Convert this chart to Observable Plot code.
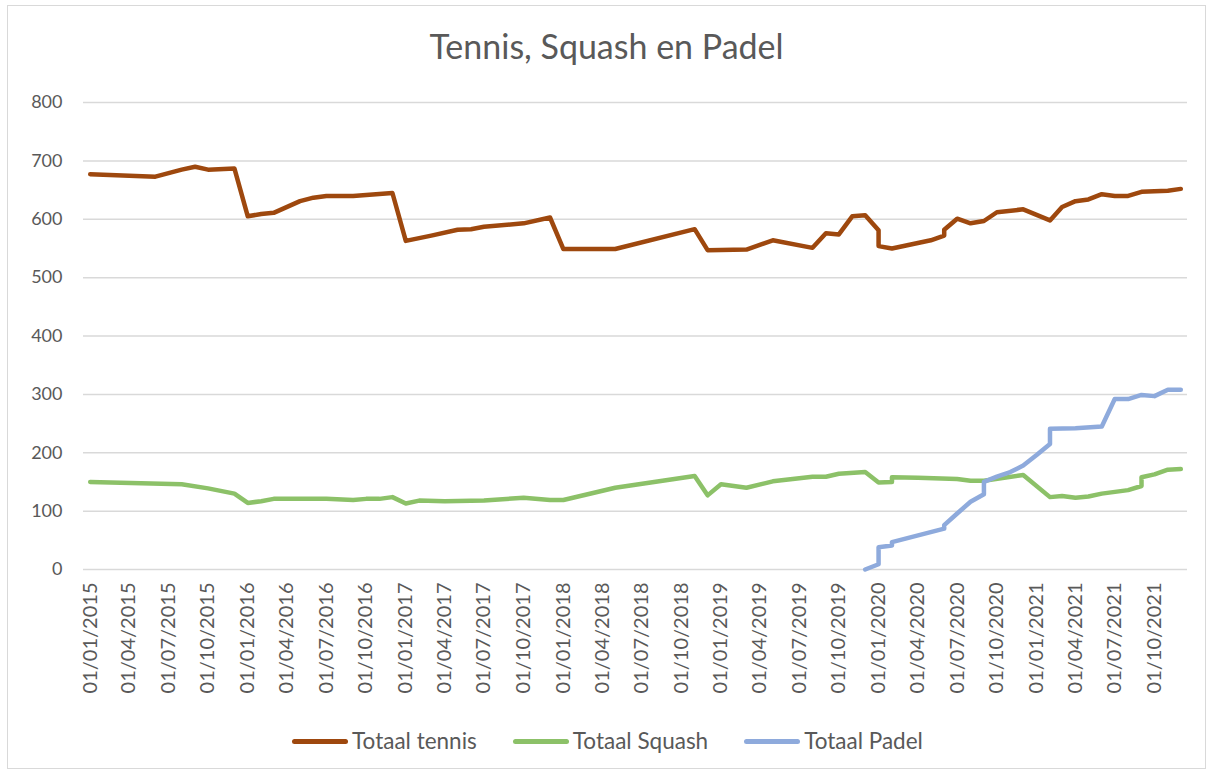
<!DOCTYPE html>
<html><head><meta charset="utf-8">
<script src="https://cdn.jsdelivr.net/npm/d3@7"></script>
<script src="https://cdn.jsdelivr.net/npm/@observablehq/plot@0.6"></script>
<style>
body{margin:0;background:#fff;font-family:Lato,"Open Sans",sans-serif;}
#frame{position:absolute;left:7px;top:5px;width:1199px;height:764px;border:1px solid #d9d9d9;box-sizing:border-box;}
#title{position:absolute;top:24px;left:0;width:1213px;text-align:center;font-size:34px;line-height:44px;color:#595959;}
#chart{position:absolute;left:0;top:80px;}
#legend{position:absolute;top:726px;left:0;width:1213px;display:flex;justify-content:center;align-items:center;font-size:22.5px;line-height:30px;color:#595959;padding-left:2px;box-sizing:border-box;}
.item{display:flex;align-items:center;margin:0 18px;}
.sw{display:inline-block;width:56px;height:5px;border-radius:3px;margin-right:4px;}
#chart svg g[aria-label="x-axis tick label"]{font-size:20px;}
#chart svg g[aria-label="y-axis tick label"]{font-size:18px;}
</style></head>
<body>
<div id="frame"></div>
<div id="title">Tennis, Squash en Padel</div>
<div id="chart"></div>
<div id="legend"></div>
<script>
const seriesNames = ["Totaal tennis", "Totaal Squash", "Totaal Padel"];
const seriesColors = ["#9e480e", "#8cc168", "#8eaadc"];

const tennisDates = ["2015-01","2015-06","2015-08","2015-09","2015-10","2015-12","2016-01","2016-02","2016-03","2016-05","2016-06","2016-07","2016-09","2016-12","2017-01","2017-03","2017-05","2017-06","2017-07","2017-10","2017-12","2018-01","2018-05","2018-11","2018-12","2019-03","2019-05","2019-08","2019-09","2019-10","2019-11","2019-12","2020-01","2020-01","2020-02","2020-05","2020-06","2020-06","2020-07","2020-08","2020-09","2020-10","2020-12","2021-02","2021-03","2021-04","2021-05","2021-06","2021-07","2021-08","2021-09","2021-10","2021-11","2021-12"];
const tennisValues = [677,673,685,690,685,687,605,609,611,631,637,640,640,645,563,572,582,583,587,593,603,549,549,583,547,548,564,551,576,574,605,607,581,554,550,564,572,582,601,593,597,612,617,598,621,631,634,643,640,640,647,648,649,652];

const squashDates = ["2015-01","2015-08","2015-10","2015-12","2016-01","2016-02","2016-03","2016-07","2016-09","2016-10","2016-11","2016-12","2017-01","2017-02","2017-04","2017-07","2017-10","2017-12","2018-01","2018-05","2018-11","2018-12","2019-01","2019-03","2019-05","2019-08","2019-09","2019-10","2019-12","2020-01","2020-02","2020-02","2020-04","2020-07","2020-08","2020-09","2020-12","2021-02","2021-03","2021-04","2021-05","2021-06","2021-08","2021-09","2021-09","2021-10","2021-11","2021-12"];
const squashValues = [150,146,139,130,114,117,121,121,119,121,121,124,113,118,117,118,123,119,119,140,160,127,146,140,151,159,159,164,167,149,150,158,157,155,152,152,162,124,126,123,125,130,136,143,158,163,171,172];

const padelDates = ["2019-12","2020-01","2020-01","2020-02","2020-02","2020-06","2020-06","2020-07","2020-08","2020-09","2020-09","2020-10","2020-11","2020-12","2021-01","2021-02","2021-02","2021-04","2021-06","2021-07","2021-08","2021-09","2021-10","2021-11","2021-12"];
const padelValues = [0,9,38,41,47,70,76,96,116,129,150,159,167,178,196,215,241,242,245,292,292,299,297,308,308];

const xTickLabels = ["01/01/2015","01/04/2015","01/07/2015","01/10/2015","01/01/2016","01/04/2016","01/07/2016","01/10/2016","01/01/2017","01/04/2017","01/07/2017","01/10/2017","01/01/2018","01/04/2018","01/07/2018","01/10/2018","01/01/2019","01/04/2019","01/07/2019","01/10/2019","01/01/2020","01/04/2020","01/07/2020","01/10/2020","01/01/2021","01/04/2021","01/07/2021","01/10/2021"];
const yTicks = [0,100,200,300,400,500,600,700,800];

const parseM = d3.utcParse("%Y-%m");
const parseT = d3.utcParse("%d/%m/%Y");
const fmtT = d3.utcFormat("%d/%m/%Y");
const mk = (dates, values, s) => dates.map((d,i)=>({date: parseM(d), value: values[i], series: s}));
const tennis = mk(tennisDates, tennisValues, seriesNames[0]);
const squash = mk(squashDates, squashValues, seriesNames[1]);
const padel = mk(padelDates, padelValues, seriesNames[2]);
const xTicks = xTickLabels.map(parseT);

const lineOpts = (c) => ({x:"date", y:"value", stroke:c, strokeWidth:4.5, strokeLinecap:"round", strokeLinejoin:"round"});

const chart = Plot.plot({
  width: 1213, height: 640,
  marginLeft: 83, marginRight: 26, marginTop: 22, marginBottom: 151,
  style: {fontFamily: "Lato, 'Open Sans', sans-serif", fontSize: "18px", color: "#595959", background: "transparent"},
  x: {type: "utc", domain: [new Date(Date.UTC(2014,11,16,12)), new Date(Date.UTC(2021,11,16,12))], ticks: xTicks, tickFormat: fmtT, tickRotate: -90, tickSize: 0, tickPadding: 13, label: null},
  y: {domain: [0, 800], ticks: yTicks, tickSize: 0, tickPadding: 21, label: null},
  marks: [
    Plot.gridY(yTicks, {stroke: "#d9d9d9", strokeOpacity: 1, strokeWidth: 1.5}),
    Plot.line(tennis, lineOpts(seriesColors[0])),
    Plot.line(squash, lineOpts(seriesColors[1])),
    Plot.line(padel, lineOpts(seriesColors[2]))
  ]
});
document.getElementById("chart").appendChild(chart);

const legend = document.getElementById("legend");
seriesNames.forEach((n,i)=>{
  const it = document.createElement("div"); it.className = "item";
  const sw = document.createElement("span"); sw.className = "sw"; sw.style.background = seriesColors[i];
  const tx = document.createElement("span"); tx.textContent = n;
  it.appendChild(sw); it.appendChild(tx); legend.appendChild(it);
});
</script>
</body></html>
